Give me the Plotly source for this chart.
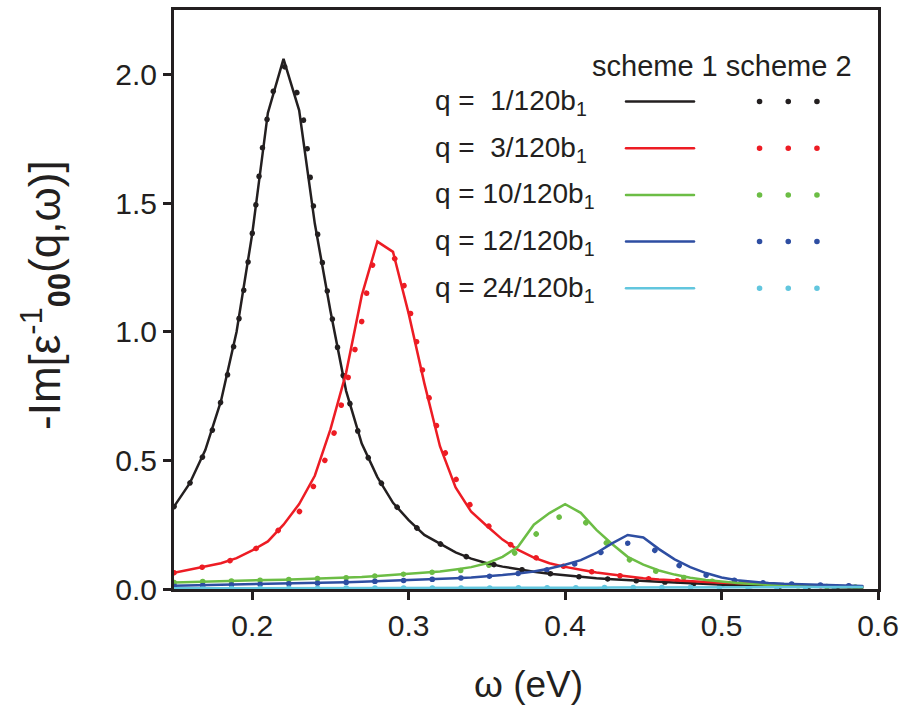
import plotly.graph_objects as go

# ---------------- data ----------------
omega = [0.15, 0.16, 0.17, 0.18, 0.19, 0.20, 0.21, 0.22, 0.23, 0.24,
         0.25, 0.26, 0.27, 0.28, 0.29, 0.30, 0.31, 0.32, 0.33, 0.34,
         0.35, 0.36, 0.37, 0.38, 0.39, 0.40, 0.41, 0.42, 0.43, 0.44,
         0.45, 0.46, 0.47, 0.48, 0.49, 0.50, 0.51, 0.52, 0.53, 0.54,
         0.55, 0.56, 0.57, 0.58, 0.59]

# scheme 1 (solid lines)
q1_s1 = [0.32, 0.41, 0.54, 0.73, 1.00, 1.38, 1.85, 2.06, 1.86, 1.42,
         1.08, 0.77, 0.565, 0.435, 0.335, 0.268, 0.21, 0.175, 0.142, 0.118,
         0.100, 0.087, 0.076, 0.067, 0.059, 0.053, 0.047, 0.042, 0.038, 0.034,
         0.031, 0.028, 0.025, 0.022, 0.019, 0.017, 0.015, 0.013, 0.012, 0.010,
         0.009, 0.008, 0.007, 0.006, 0.005]
q3_s1 = [0.063, 0.075, 0.087, 0.100, 0.120, 0.150, 0.185, 0.25, 0.33, 0.44,
         0.62, 0.84, 1.14, 1.35, 1.31, 1.07, 0.80, 0.555, 0.395, 0.300,
         0.245, 0.192, 0.152, 0.122, 0.100, 0.086, 0.075, 0.064, 0.056, 0.048,
         0.042, 0.037, 0.033, 0.030, 0.027, 0.024, 0.022, 0.020, 0.018, 0.016,
         0.015, 0.013, 0.012, 0.011, 0.010]
q10_s1 = [0.025, 0.027, 0.029, 0.030, 0.032, 0.033, 0.035, 0.036, 0.038, 0.040,
          0.042, 0.044, 0.047, 0.051, 0.055, 0.059, 0.063, 0.068, 0.076, 0.085,
          0.100, 0.125, 0.165, 0.250, 0.295, 0.330, 0.296, 0.230, 0.175, 0.125,
          0.095, 0.072, 0.056, 0.044, 0.035, 0.028, 0.023, 0.019, 0.016, 0.014,
          0.012, 0.010, 0.009, 0.008, 0.007]
q12_s1 = [0.013, 0.014, 0.015, 0.016, 0.017, 0.018, 0.019, 0.020, 0.021, 0.022,
          0.024, 0.026, 0.028, 0.030, 0.032, 0.034, 0.036, 0.039, 0.042, 0.045,
          0.049, 0.054, 0.060, 0.068, 0.080, 0.094, 0.112, 0.140, 0.177, 0.210,
          0.200, 0.155, 0.115, 0.085, 0.062, 0.045, 0.034, 0.028, 0.023, 0.020,
          0.018, 0.016, 0.015, 0.013, 0.012]
q24_s1 = [0.003, 0.003, 0.003, 0.003, 0.003, 0.003, 0.003, 0.003, 0.003, 0.003,
          0.003, 0.004, 0.004, 0.004, 0.004, 0.004, 0.004, 0.004, 0.004, 0.004,
          0.004, 0.005, 0.005, 0.005, 0.005, 0.005, 0.005, 0.005, 0.006, 0.006,
          0.006, 0.006, 0.006, 0.007, 0.007, 0.007, 0.007, 0.007, 0.008, 0.008,
          0.008, 0.008, 0.008, 0.008, 0.008]

# scheme 2 (dotted curves)
q1_s2 = [0.32, 0.41, 0.54, 0.73, 1.00, 1.38, 1.84, 2.03, 1.90, 1.45,
         1.09, 0.78, 0.57, 0.44, 0.338, 0.270, 0.212, 0.176, 0.143, 0.119,
         0.101, 0.088, 0.077, 0.068, 0.060, 0.053, 0.047, 0.042, 0.038, 0.034,
         0.031, 0.028, 0.025, 0.022, 0.019, 0.017, 0.015, 0.013, 0.012, 0.010,
         0.009, 0.008, 0.007, 0.006, 0.005]
q3_s2 = [0.063, 0.075, 0.087, 0.100, 0.120, 0.150, 0.185, 0.25, 0.30, 0.41,
         0.56, 0.79, 1.04, 1.29, 1.29, 1.10, 0.82, 0.59, 0.43, 0.32,
         0.252, 0.195, 0.155, 0.125, 0.102, 0.087, 0.075, 0.064, 0.056, 0.048,
         0.042, 0.037, 0.033, 0.030, 0.027, 0.024, 0.022, 0.020, 0.018, 0.016,
         0.015, 0.013, 0.012, 0.011, 0.010]
q10_s2 = [0.025, 0.027, 0.029, 0.030, 0.032, 0.033, 0.035, 0.036, 0.038, 0.040,
          0.042, 0.044, 0.047, 0.051, 0.055, 0.059, 0.063, 0.067, 0.070, 0.076,
          0.090, 0.112, 0.150, 0.205, 0.260, 0.285, 0.272, 0.215, 0.160, 0.118,
          0.087, 0.066, 0.051, 0.041, 0.033, 0.027, 0.023, 0.019, 0.016, 0.014,
          0.012, 0.010, 0.009, 0.008, 0.007]
q12_s2 = [0.013, 0.014, 0.015, 0.016, 0.017, 0.018, 0.019, 0.020, 0.021, 0.022,
          0.024, 0.026, 0.028, 0.030, 0.032, 0.034, 0.036, 0.039, 0.042, 0.045,
          0.049, 0.054, 0.060, 0.068, 0.076, 0.088, 0.105, 0.133, 0.165, 0.178,
          0.174, 0.140, 0.100, 0.074, 0.054, 0.041, 0.033, 0.028, 0.023, 0.020,
          0.018, 0.016, 0.015, 0.013, 0.012]
q24_s2 = list(q24_s1)

labels = ["q = &nbsp;1/120b<sub>1</sub>", "q = &nbsp;3/120b<sub>1</sub>",
          "q = 10/120b<sub>1</sub>", "q = 12/120b<sub>1</sub>",
          "q = 24/120b<sub>1</sub>"]
colors = ["#231f20", "#ed1c24", "#6cbd45", "#2e4ea2", "#62c6de"]
scheme1 = [q1_s1, q3_s1, q10_s1, q12_s1, q24_s1]
scheme2 = [q1_s2, q3_s2, q10_s2, q12_s2, q24_s2]

x_ticks = [0.2, 0.3, 0.4, 0.5, 0.6]
y_ticks = [0.0, 0.5, 1.0, 1.5, 2.0]

# ---------------- figure ----------------
W, H = 906, 708
L, R, T, B = 174, 28, 10, 119
PW, PH = W - L - R, H - T - B
FONT = "Liberation Sans, Arial, Helvetica, sans-serif"
INK = "#231f20"
DOT = "0.1px,28.6px"

fig = go.Figure()
for ys, c in zip(scheme2, colors):
    fig.add_trace(go.Scatter(x=omega, y=ys, mode="lines", line_shape="spline",
                             line=dict(color=c, width=5.5, dash=DOT),
                             showlegend=False, hoverinfo="skip"))
for ys, c in zip(scheme1, colors):
    fig.add_trace(go.Scatter(x=omega, y=ys, mode="lines",
                             line=dict(color=c, width=2.5),
                             showlegend=False, hoverinfo="skip"))


def px_x(p):
    return (p - L) / PW


def px_y(p):
    return (H - B - p) / PH


annotations = []
shapes = []
# legend header
annotations.append(dict(text="scheme 1 scheme 2", xref="paper", yref="paper",
                        x=px_x(590), y=px_y(66), xanchor="left", yanchor="middle",
                        showarrow=False, font=dict(family=FONT, size=29, color=INK)))
row_y0, row_dy = 101.5, 46.7
for i, (lab, c) in enumerate(zip(labels, colors)):
    ry = row_y0 + i * row_dy
    annotations.append(dict(text=lab, xref="paper", yref="paper",
                            x=px_x(433), y=px_y(ry + 1), xanchor="left", yanchor="middle",
                            showarrow=False, font=dict(family=FONT, size=28, color=INK)))
    shapes.append(dict(type="line", xref="paper", yref="paper",
                       x0=px_x(626), x1=px_x(694), y0=px_y(ry), y1=px_y(ry),
                       line=dict(color=c, width=2.5)))
    shapes.append(dict(type="line", xref="paper", yref="paper",
                       x0=px_x(759.5), x1=px_x(818.5), y0=px_y(ry), y1=px_y(ry),
                       line=dict(color=c, width=5.5, dash=DOT)))

# axis titles
annotations.append(dict(text="-Im[ε<sup>-1</sup><sub><b>00</b></sub>(q,ω)]",
                        xref="paper", yref="paper", x=px_x(45), y=px_y(295),
                        xanchor="center", yanchor="middle", textangle=-90,
                        showarrow=False, font=dict(family=FONT, size=44, color=INK)))
annotations.append(dict(text="ω (eV)", xref="paper", yref="paper",
                        x=px_x(528), y=px_y(684), xanchor="center", yanchor="middle",
                        showarrow=False, font=dict(family=FONT, size=37, color=INK)))

axis_common = dict(showline=True, linecolor=INK, linewidth=3, mirror=True,
                   ticks="outside", ticklen=8, tickwidth=3, tickcolor=INK,
                   showgrid=False, zeroline=False, automargin=False,
                   tickfont=dict(family=FONT, size=30, color=INK))

fig.update_layout(
    width=W, height=H,
    margin=dict(l=L, r=R, t=T, b=B, pad=0, autoexpand=False),
    paper_bgcolor="white", plot_bgcolor="white",
    xaxis=dict(range=[0.15, 0.6], tickvals=x_ticks,
               ticktext=[f"{v:.1f}" for v in x_ticks], **axis_common),
    yaxis=dict(range=[0, 2.25], tickvals=y_ticks,
               ticktext=[f"{v:.1f}" for v in y_ticks], **axis_common),
    annotations=annotations,
    shapes=shapes,
)

post = ("var s=document.createElement('style');"
        "s.innerHTML='.js-line, .shapelayer path{stroke-linecap:round !important;}';"
        "document.head.appendChild(s);")
fig.write_html("out.html", post_script=post)
